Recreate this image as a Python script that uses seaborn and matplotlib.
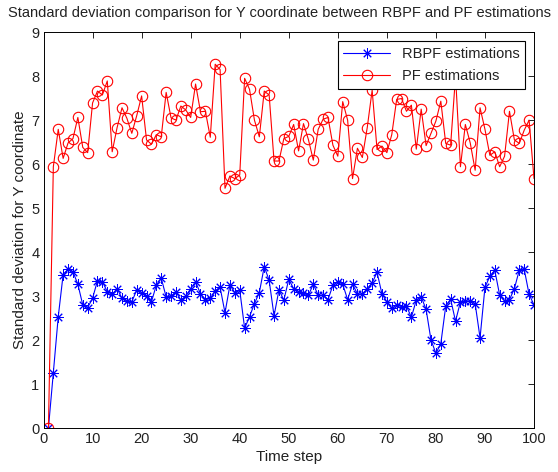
import numpy as np
import pandas as pd
import matplotlib
matplotlib.use("Agg")
import matplotlib.pyplot as plt
import seaborn as sns

# ── values (time steps 1..100) ──────────────────────────────────────────────
steps = np.arange(1, 101)

rbpf_std = [
    0.00, 1.26, 2.53, 3.49, 3.61, 3.55, 3.27, 2.80, 2.74, 2.95,
    3.35, 3.33, 3.10, 3.04, 3.17, 2.95, 2.89, 2.87, 3.14, 3.08,
    3.00, 2.87, 3.25, 3.41, 2.98, 3.00, 3.10, 2.91, 3.00, 3.17,
    3.33, 3.05, 2.92, 2.95, 3.12, 3.20, 2.62, 3.25, 3.08, 3.14,
    2.27, 2.53, 2.83, 3.08, 3.67, 3.36, 2.55, 3.14, 2.91, 3.38,
    3.17, 3.10, 3.06, 3.02, 3.27, 3.02, 3.02, 2.92, 3.25, 3.33,
    3.27, 2.92, 3.27, 3.05, 3.05, 3.17, 3.30, 3.54, 3.05, 2.87,
    2.72, 2.80, 2.76, 2.77, 2.52, 2.91, 2.98, 2.70, 2.00, 1.70,
    1.92, 2.77, 2.93, 2.43, 2.87, 2.89, 2.89, 2.83, 2.05, 3.20,
    3.45, 3.59, 3.02, 2.89, 2.92, 3.17, 3.59, 3.61, 3.04, 2.80,
]

pf_std = [
    0.00, 5.94, 6.79, 6.13, 6.48, 6.58, 7.06, 6.38, 6.26, 7.39,
    7.66, 7.57, 7.89, 6.28, 6.83, 7.28, 7.04, 6.70, 7.10, 7.55,
    6.55, 6.45, 6.67, 6.62, 7.63, 7.05, 7.00, 7.32, 7.23, 7.06,
    7.82, 7.19, 7.20, 6.61, 8.27, 8.15, 5.45, 5.73, 5.67, 5.75,
    7.95, 7.70, 7.00, 6.62, 7.66, 7.57, 6.07, 6.07, 6.58, 6.63,
    6.90, 6.30, 6.92, 6.56, 6.09, 6.79, 7.02, 7.06, 6.43, 6.18,
    7.42, 7.00, 5.67, 6.36, 6.15, 6.83, 7.68, 6.33, 6.41, 6.26,
    6.67, 7.47, 7.49, 7.20, 7.34, 6.34, 7.25, 6.42, 6.70, 6.98,
    7.43, 6.47, 6.43, 8.00, 5.94, 6.90, 6.48, 5.86, 7.28, 6.79,
    6.20, 6.28, 5.94, 6.18, 7.20, 6.55, 6.47, 6.77, 7.00, 5.67,
]

x_ticks = list(range(0, 101, 10))
y_ticks = list(range(0, 10))

df = pd.DataFrame({"step": steps, "RBPF": rbpf_std, "PF": pf_std})

sns.set_style("white")
plt.rcParams["font.family"] = ["Liberation Sans", "DejaVu Sans"]
text_col = "#222222"

fig = plt.figure(figsize=(5.58, 4.72), dpi=100)
ax = fig.add_axes([0.078, 0.093, 0.879, 0.839])

# MATLAB-like '*' marker: 8-armed asterisk
sns.lineplot(data=df, x="step", y="RBPF", ax=ax, color="blue", linewidth=0.8,
             marker=(8, 2, 0), markersize=7.5, markeredgecolor="blue",
             markeredgewidth=0.7, label="RBPF estimations")
sns.lineplot(data=df, x="step", y="PF", ax=ax, color="red", linewidth=0.8,
             marker="o", markersize=7.5, markeredgecolor="red",
             markerfacecolor="none", markeredgewidth=0.8,
             label="PF estimations")

ax.set_xlim(0, 100)
ax.set_ylim(0, 9)
ax.set_xticks(x_ticks)
ax.set_yticks(y_ticks)
ax.tick_params(direction="in", top=True, right=True, length=4,
               width=0.6, labelsize=10.5, color="black", labelcolor=text_col,
               pad=3)
for s in ax.spines.values():
    s.set_color("black")
    s.set_linewidth(0.7)

# title centred on the figure (wider than the axes)
fig.text(0.5, 0.972, "Standard deviation comparison for Y coordinate between RBPF and PF estimations",
         ha="center", va="center", fontsize=10.5, color=text_col)
ax.set_xlabel("Time step", fontsize=11, labelpad=3, color=text_col)
ax.set_ylabel("Standard deviation for Y coordinate", fontsize=11, labelpad=3,
              color=text_col)

leg = ax.legend(loc="upper right", fontsize=10.5, frameon=True, fancybox=False,
                edgecolor="black", framealpha=1, borderaxespad=0.6,
                handlelength=3.2, borderpad=0.4, labelspacing=0.55)
leg.get_frame().set_linewidth(0.8)
for t in leg.get_texts():
    t.set_color(text_col)

fig.savefig("out.png", dpi=100)
